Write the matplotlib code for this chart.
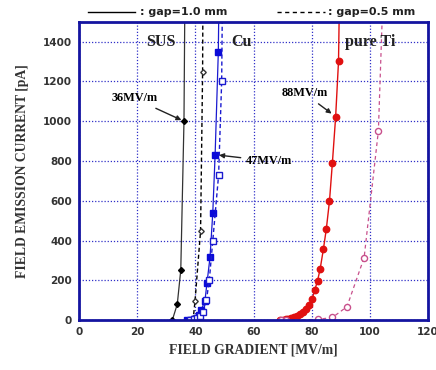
import numpy as np
import matplotlib.pyplot as plt
from matplotlib.lines import Line2D

# field gradient [MV/m] vs field emission current [pA]
sus_10_x = [32.1, 33.8, 35.0, 36.1, 36.4]
sus_10_y = [0, 80, 252, 1000, 1600]
sus_05_x = [38.5, 39.3, 39.9, 41.8, 42.5, 42.6]
sus_05_y = [0, 10, 97, 448, 1249, 1600]

cu_10_x = [37.0, 38.5, 39.5, 40.5, 41.2, 42.0, 43.3, 44.0, 45.05, 46.0, 46.8, 47.9, 48.1]
cu_10_y = [0, 2, 5, 10, 25, 50, 97, 186, 316, 540, 831, 1349, 1600]
cu_05_x = [38.0, 39.5, 40.5, 41.5, 42.5, 43.8, 44.8, 46.0, 48.0, 49.05, 49.3]
cu_05_y = [0, 3, 8, 20, 40, 100, 200, 400, 730, 1200, 1600]

ti_10_x = [69.1, 70, 71, 72, 73, 74, 75, 76, 77, 78, 79, 80.1, 81.0, 82.0, 82.9,
           84.0, 85.0, 86.1, 87.1, 88.2, 89.2, 89.5]
ti_10_y = [0, 1, 3, 5, 8, 13, 20, 28, 40, 55, 75, 104, 149, 198, 258,
           356, 457, 599, 792, 1019, 1301, 1600]
ti_05_x = [69.5, 71.0, 82.0, 87.1, 92.1, 98.0, 102.9, 104.4]
ti_05_y = [0, 0, 3, 13, 67, 314, 952, 1600]

frame = '#1414a0'
grid_c = '#3030c8'
blue = '#1a1ad0'
red = '#e01010'
pink = '#c8508c'

fig = plt.figure(figsize=(4.36, 3.70), dpi=100)
ax = fig.add_axes([0.181, 0.135, 0.801, 0.806])

ax.plot(sus_10_x, sus_10_y, '-', color='#333333', lw=0.9, marker='D', ms=3,
        mfc='black', mec='black')
ax.plot(sus_05_x, sus_05_y, '--', color='black', lw=1.0, dashes=(3, 2),
        marker='D', ms=2.8, mfc='white', mec='#333333')
ax.plot(cu_10_x, cu_10_y, '-', color=blue, lw=0.9, marker='s', ms=4.2,
        mfc='#0a0ad8', mec='#0a0ad8')
ax.plot(cu_05_x, cu_05_y, '--', color=blue, lw=1.0, dashes=(3, 2),
        marker='s', ms=4, mfc='white', mec=blue)
ax.plot(ti_10_x, ti_10_y, '-', color=red, lw=1.0, marker='o', ms=4.6,
        mfc=red, mec=red)
ax.plot(ti_05_x, ti_05_y, '--', color=pink, lw=0.9, dashes=(3, 2.5),
        marker='o', ms=4.4, mfc='white', mec=pink)

ax.set_xlim(0, 120)
ax.set_ylim(0, 1500)
ax.set_xticks(np.arange(0, 121, 20))
ax.set_yticks(np.arange(0, 1401, 200))
ax.grid(True, color=grid_c, ls=(0, (1, 1.5)), lw=0.9)
ax.tick_params(length=0, labelsize=7.5, pad=5)
for lab in ax.get_xticklabels() + ax.get_yticklabels():
    lab.set_fontweight('bold')
    lab.set_color('#333333')
for sp in ax.spines.values():
    sp.set_color(frame)
    sp.set_linewidth(2)

serif = 'Liberation Serif'
ax.set_xlabel('FIELD GRADIENT [MV/m]', family=serif, fontweight='bold',
              fontsize=9.8, color='#333333', labelpad=5)
ax.set_ylabel('FIELD EMISSION CURRENT [pA]', family=serif, fontweight='bold',
              fontsize=9.8, color='#333333', labelpad=10)

for txt, x in [('SUS', 28), ('Cu', 56), ('pure Ti', 100)]:
    ax.text(x, 1400, txt, family=serif, fontweight='bold', fontsize=11.5,
            ha='center', va='center', color='#222222')

arrow = dict(arrowstyle='-|>', color='#222222', lw=1.0, mutation_scale=7)
ax.annotate('36MV/m', xy=(36.1, 1000), xytext=(19, 1115), family=serif,
            fontweight='bold', fontsize=8.8, ha='center', va='center',
            arrowprops=arrow)
ax.annotate('47MV/m', xy=(47.2, 831), xytext=(57.5, 800), family=serif,
            fontweight='bold', fontsize=8.8, ha='left', va='center',
            arrowprops=arrow)
ax.annotate('88MV/m', xy=(87.6, 1030), xytext=(77.5, 1140), family=serif,
            fontweight='bold', fontsize=8.8, ha='center', va='center',
            arrowprops=arrow)

fig.add_artist(Line2D([88 / 436, 135 / 436], [1 - 12 / 370] * 2,
                      color='black', lw=1.0))
fig.text(140 / 436, 1 - 12 / 370, ': gap=1.0 mm', fontsize=8,
         fontweight='bold', va='center', color='#222222')
fig.add_artist(Line2D([277 / 436, 325 / 436], [1 - 12 / 370] * 2,
                      color='black', lw=1.0, ls=(0, (3, 2.5))))
fig.text(328 / 436, 1 - 12 / 370, ': gap=0.5 mm', fontsize=8,
         fontweight='bold', va='center', color='#222222')

fig.savefig('out.png', dpi=100)
